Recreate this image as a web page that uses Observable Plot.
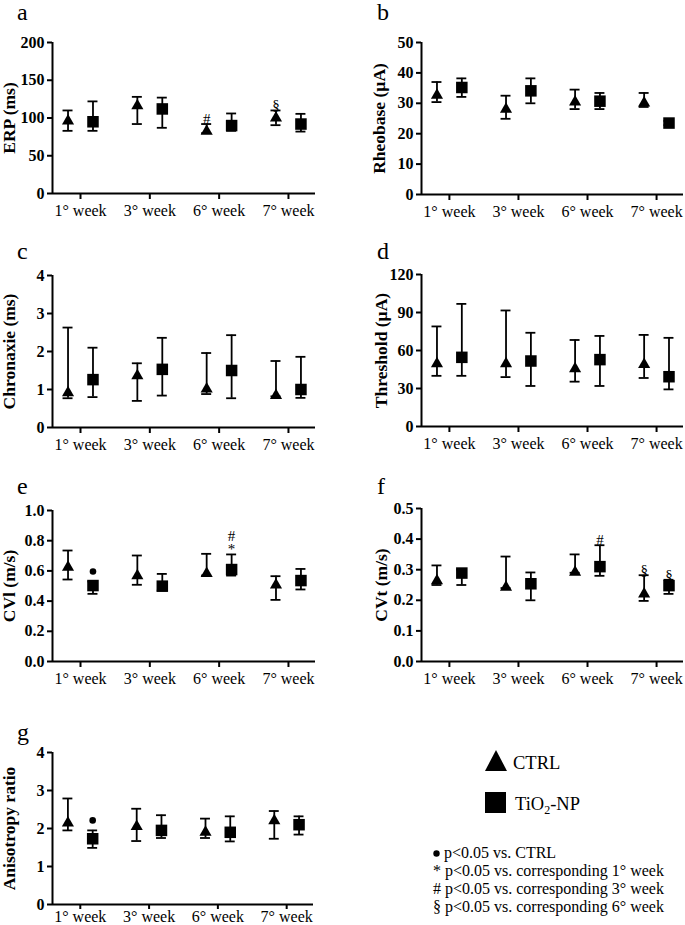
<!DOCTYPE html>
<html>
<head>
<meta charset="utf-8">
<script src="https://cdn.jsdelivr.net/npm/d3@7"></script>
<script src="https://cdn.jsdelivr.net/npm/@observablehq/plot@0.6"></script>
<style>
  html, body { margin: 0; padding: 0; background: #fff; }
  #root { position: relative; width: 685px; height: 925px; font-family: "Liberation Serif", "Times New Roman", serif; color: #000; overflow: hidden; }
  #root svg text { font-family: "Liberation Serif", "Times New Roman", serif !important; }
  .pn { position: absolute; }
  .letter { position: absolute; font-size: 24px; line-height: 1; }
  .leg { position: absolute; font-size: 18.5px; line-height: 1; white-space: nowrap; }
  .note { position: absolute; font-size: 16px; line-height: 1; white-space: nowrap; }
</style>
</head>
<body>
<div id="root"></div>
<script>
// ---------- data ----------
const weeks = ["1° week", "3° week", "6° week", "7° week"];
const groups = ["CTRL", "TiO2-NP"];

// a: ERP (ms)
const erpCtrlMean = [98.5, 118.7, 84.8, 102.4];
const erpCtrlLo   = [83, 92, 80, 90.5];
const erpCtrlHi   = [110, 128, 92, 110];
const erpTiMean   = [95, 112, 90, 92];
const erpTiLo     = [83, 87, 83, 82];
const erpTiHi     = [122, 127, 106, 105.5];

// b: Rheobase (µA)
const rheoCtrlMean = [33.2, 28.6, 31.0, 30.7];
const rheoCtrlLo   = [30.4, 24.9, 28.1, 28.8];
const rheoCtrlHi   = [37.0, 32.5, 34.5, 33.4];
const rheoTiMean   = [35.2, 34.1, 30.7, 23.5];
const rheoTiLo     = [32.1, 30.0, 28.1, 22.8];
const rheoTiHi     = [38.2, 38.2, 33.4, 24.2];

// c: Chronaxie (ms)
const chrCtrlMean = [0.96, 1.41, 1.06, 0.89];
const chrCtrlLo   = [0.77, 0.70, 0.88, 0.82];
const chrCtrlHi   = [2.63, 1.69, 1.96, 1.75];
const chrTiMean   = [1.26, 1.53, 1.50, 1.00];
const chrTiLo     = [0.80, 0.84, 0.77, 0.78];
const chrTiHi     = [2.10, 2.36, 2.43, 1.86];

// d: Threshold (µA)
const thrCtrlMean = [51, 51, 47, 50.4];
const thrCtrlLo   = [40, 39, 35.4, 38.3];
const thrCtrlHi   = [79, 91.6, 68.3, 72.3];
const thrTiMean   = [54.6, 51.7, 52.8, 39.3];
const thrTiLo     = [40, 32, 32, 29.3];
const thrTiHi     = [96.8, 74, 71.5, 70];

// e: CVl (m/s)
const cvlCtrlMean = [0.636, 0.580, 0.594, 0.518];
const cvlCtrlLo   = [0.543, 0.508, 0.570, 0.408];
const cvlCtrlHi   = [0.735, 0.702, 0.713, 0.565];
const cvlTiMean   = [0.503, 0.499, 0.609, 0.536];
const cvlTiLo     = [0.448, 0.470, 0.569, 0.477];
const cvlTiHi     = [0.530, 0.580, 0.709, 0.613];

// f: CVt (m/s)
const cvtCtrlMean = [0.270, 0.248, 0.297, 0.226];
const cvtCtrlLo   = [0.250, 0.240, 0.290, 0.198];
const cvtCtrlHi   = [0.314, 0.343, 0.350, 0.282];
const cvtTiMean   = [0.289, 0.254, 0.310, 0.248];
const cvtTiLo     = [0.250, 0.200, 0.280, 0.221];
const cvtTiHi     = [0.300, 0.291, 0.380, 0.267];

// g: Anisotropy ratio
const aniCtrlMean = [2.19, 2.10, 1.95, 2.25];
const aniCtrlLo   = [1.95, 1.67, 1.75, 1.73];
const aniCtrlHi   = [2.79, 2.52, 2.26, 2.46];
const aniTiMean   = [1.73, 1.95, 1.90, 2.10];
const aniTiLo     = [1.49, 1.75, 1.66, 1.84];
const aniTiHi     = [1.95, 2.35, 2.32, 2.32];

// significance marks: [week index, group, symbol, stack level]
const erpMarks = [[2, "CTRL", "#", 0], [3, "CTRL", "§", 0]];
const cvlMarks = [[0, "TiO2-NP", "●", 0], [2, "TiO2-NP", "*", 0], [2, "TiO2-NP", "#", 1]];
const cvtMarks = [[2, "TiO2-NP", "#", 0], [3, "CTRL", "§", 0], [3, "TiO2-NP", "§", 0]];
const aniMarks = [[0, "TiO2-NP", "●", 0]];

// tick values
const erpTicks = [0, 50, 100, 150, 200];
const rheoTicks = [0, 10, 20, 30, 40, 50];
const chrTicks = [0, 1, 2, 3, 4];
const thrTicks = [0, 30, 60, 90, 120];
const cvlTicks = [0, 0.2, 0.4, 0.6, 0.8, 1.0];
const cvtTicks = [0, 0.1, 0.2, 0.3, 0.4, 0.5];
const aniTicks = [0, 1, 2, 3, 4];

// ---------- drawing ----------
const root = document.getElementById("root");

// triangle centred on its bounding box
const tri = {
  draw(ctx, size) {
    const s = Math.sqrt(size * 4 / Math.sqrt(3));
    const h = s * Math.sqrt(3) / 2;
    ctx.moveTo(0, -h / 2);
    ctx.lineTo(s / 2, h / 2);
    ctx.lineTo(-s / 2, h / 2);
    ctx.closePath();
  }
};

const OFF = 0.18, CAP = 0.072;
const XDOM = [-0.404, 3.39];

function buildRows(mean, lo, hi, group) {
  const off = group === "CTRL" ? -OFF : OFF;
  return weeks.map((w, i) => ({week: i, group, x: i + off, mean: mean[i], lo: lo[i], hi: hi[i]}));
}

function panel(cfg) {
  const ctrl = buildRows(cfg.cm, cfg.cl, cfg.ch, "CTRL");
  const ti = buildRows(cfg.tm, cfg.tl, cfg.th, "TiO2-NP");
  const all = ctrl.concat(ti);
  const marks = (cfg.marks || []).map(([wk, g, s, lvl]) => {
    const r = all.find(d => d.week === wk && d.group === g);
    return {x: r.x, y: r.hi, s, lvl};
  });
  const glyphs = marks.filter(d => d.s !== "●");
  const bullets = marks.filter(d => d.s === "●");
  const mTop = 14, mBottom = cfg.mBottom || 34;
  const frameH = cfg.bottom - cfg.top;
  const width = cfg.right + cfg.mRight;
  const plot = Plot.plot({
    width,
    height: mTop + frameH + mBottom,
    marginLeft: cfg.mLeft,
    marginRight: cfg.mRight,
    marginTop: mTop,
    marginBottom: mBottom,
    style: {fontFamily: "Liberation Serif, Times New Roman, serif", fontSize: "15px", color: "#000", background: "transparent", overflow: "visible"},
    x: {type: "linear", domain: XDOM},
    y: {domain: [cfg.ticks[0], cfg.ticks[cfg.ticks.length - 1]]},
    marks: [
      Plot.axisX({ticks: [0, 1, 2, 3], tickFormat: i => weeks[i], tickSize: cfg.xTick || 6, tickPadding: cfg.xPad ?? 5, strokeWidth: 2, fontSize: 16, label: null}),
      Plot.axisY({ticks: cfg.ticks, tickFormat: cfg.fmt, tickSize: 5, tickPadding: 3, strokeWidth: 2, fontWeight: "bold", fontSize: 16, label: null}),
      Plot.ruleY([cfg.ticks[0]], {strokeWidth: 2}),
      Plot.ruleX([XDOM[0]], {strokeWidth: 2}),
      Plot.text([cfg.label], {frameAnchor: "left", text: d => d, rotate: -90, dx: cfg.titleDx, textAnchor: "middle", lineAnchor: "middle", fontWeight: "bold", fontSize: 17.5}),
      Plot.ruleX(all, {x: "x", y1: "lo", y2: "hi", strokeWidth: 1.8}),
      Plot.ruleY(all, {y: "hi", x1: d => d.x - CAP, x2: d => d.x + CAP, strokeWidth: 1.8}),
      Plot.ruleY(all, {y: "lo", x1: d => d.x - CAP, x2: d => d.x + CAP, strokeWidth: 1.8}),
      Plot.dot(ctrl, {x: "x", y: "mean", symbol: tri, r: 4.5, fill: "#000", stroke: "none"}),
      Plot.dot(ti, {x: "x", y: "mean", symbol: "square", r: 6.5, fill: "#000", stroke: "none"}),
      Plot.text(glyphs.filter(d => d.lvl === 0), {x: "x", y: "y", text: "s", lineAnchor: "bottom", dy: 0, fontSize: 15}),
      Plot.text(glyphs.filter(d => d.lvl === 1), {x: "x", y: "y", text: "s", lineAnchor: "bottom", dy: -13, fontSize: 15}),
      Plot.dot(bullets, {x: "x", y: "y", r: 3.3, fill: "#000", stroke: "none", dy: -10})
    ]
  });
  const div = document.createElement("div");
  div.className = "pn";
  div.style.left = cfg.left + "px";
  div.style.top = (cfg.top - mTop) + "px";
  div.appendChild(plot);
  root.appendChild(div);

  const lt = document.createElement("div");
  lt.className = "letter";
  lt.textContent = cfg.letter;
  lt.style.left = cfg.letterX + "px";
  lt.style.top = cfg.letterY + "px";
  root.appendChild(lt);
}

const f1 = d3.format(".1f");
const f0 = d3.format("d");

panel({letter: "a", letterX: 17, letterY: 0, left: 0, mLeft: 52, right: 315, mRight: 15, top: 42, bottom: 193,
  ticks: erpTicks, fmt: f0, label: "ERP (ms)", titleDx: -43,
  cm: erpCtrlMean, cl: erpCtrlLo, ch: erpCtrlHi, tm: erpTiMean, tl: erpTiLo, th: erpTiHi, marks: erpMarks});
panel({letter: "b", letterX: 377, letterY: 0, left: 340, mLeft: 81, right: 343, mRight: 2, top: 42, bottom: 194,
  ticks: rheoTicks, fmt: f0, label: "Rheobase (µA)", titleDx: -42,
  cm: rheoCtrlMean, cl: rheoCtrlLo, ch: rheoCtrlHi, tm: rheoTiMean, tl: rheoTiLo, th: rheoTiHi});
panel({letter: "c", letterX: 17, letterY: 239, left: 0, mLeft: 52, right: 315, mRight: 15, top: 275, bottom: 427,
  ticks: chrTicks, fmt: f0, label: "Chronaxie (ms)", titleDx: -43,
  cm: chrCtrlMean, cl: chrCtrlLo, ch: chrCtrlHi, tm: chrTiMean, tl: chrTiLo, th: chrTiHi});
panel({letter: "d", letterX: 377, letterY: 239, left: 340, mLeft: 81, right: 343, mRight: 2, top: 274, bottom: 426,
  ticks: thrTicks, fmt: f0, label: "Threshold (µA)", titleDx: -40,
  cm: thrCtrlMean, cl: thrCtrlLo, ch: thrCtrlHi, tm: thrTiMean, tl: thrTiLo, th: thrTiHi});
panel({letter: "e", letterX: 17, letterY: 474, left: 0, mLeft: 52, right: 315, mRight: 15, top: 510, bottom: 661,
  ticks: cvlTicks, fmt: f1, label: "CVl (m/s)", titleDx: -43,
  cm: cvlCtrlMean, cl: cvlCtrlLo, ch: cvlCtrlHi, tm: cvlTiMean, tl: cvlTiLo, th: cvlTiHi, marks: cvlMarks});
panel({letter: "f", letterX: 377, letterY: 474, left: 340, mLeft: 81, right: 343, mRight: 2, top: 508, bottom: 661,
  ticks: cvtTicks, fmt: f1, label: "CVt (m/s)", titleDx: -40,
  cm: cvtCtrlMean, cl: cvtCtrlLo, ch: cvtCtrlHi, tm: cvtTiMean, tl: cvtTiLo, th: cvtTiHi, marks: cvtMarks});
panel({letter: "g", letterX: 17, letterY: 720, left: 0, mLeft: 52, right: 313, mRight: 17, top: 752, bottom: 904,
  ticks: aniTicks, fmt: f0, label: "Anisotropy ratio", titleDx: -43, xTick: 5, xPad: 1, mBottom: 21,
  cm: aniCtrlMean, cl: aniCtrlLo, ch: aniCtrlHi, tm: aniTiMean, tl: aniTiLo, th: aniTiHi, marks: aniMarks});

// ---------- legend ----------
function addHTML(cls, left, top, html) {
  const d = document.createElement("div");
  d.className = cls;
  d.style.left = left + "px";
  d.style.top = top + "px";
  d.innerHTML = html;
  root.appendChild(d);
}
addHTML("leg", 485, 750, '<svg width="22" height="21" style="display:block"><path d="M11,0 L22,21 L0,21 Z" fill="#000"/></svg>');
addHTML("leg", 513, 754, "CTRL");
addHTML("leg", 485, 792, '<svg width="21" height="21" style="display:block"><rect width="21" height="21" fill="#000"/></svg>');
addHTML("leg", 515, 795, "TiO<sub style=\"font-size:12px;vertical-align:-4px\">2</sub>-NP");

const notes = ["", "* p&lt;0.05 vs. corresponding 1° week", "# p&lt;0.05 vs. corresponding 3° week", "§ p&lt;0.05 vs. corresponding 6° week"];
notes.forEach((t, i) => {
  const html = i === 0 ? '<svg width="7" height="7" style="vertical-align:1px"><circle cx="3.5" cy="3.5" r="3.2" fill="#000"/></svg> p&lt;0.05 vs. CTRL' : t;
  addHTML("note", 433, 845 + i * 18, html);
});
</script>
</body>
</html>
